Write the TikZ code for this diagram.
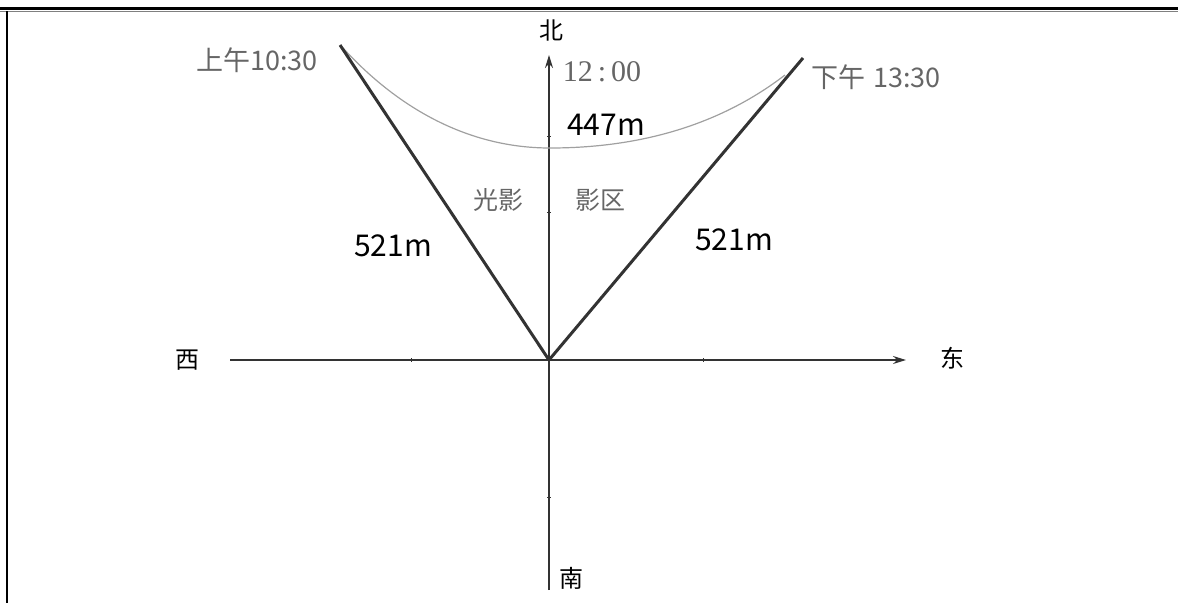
\documentclass[tikz,border=0pt]{standalone}
\usepackage{fontspec}
\setmainfont{Noto Sans CJK SC}
\newfontfamily\serifnum{Liberation Serif}
\usetikzlibrary{arrows.meta}
\definecolor{axisc}{HTML}{333333}
\definecolor{txtgray}{HTML}{666666}
\definecolor{curvec}{HTML}{A0A0A0}
\tikzset{
  axis/.style={draw=axisc, line width=1.6pt},
  ray/.style={draw=axisc, line width=3pt},
  arc/.style={draw=curvec, line width=1.2pt},
  tick/.style={draw=axisc, line width=0.8pt},
  lab/.style={inner sep=0pt, font=\fontsize{24}{26}\selectfont, text=black},
  glab/.style={inner sep=0pt, font=\fontsize{27}{29}\selectfont, text=txtgray},
  dist/.style={inner sep=0pt, font=\fontsize{30}{32}\selectfont, text=black},
}
\begin{document}
\begin{tikzpicture}[x=1pt,y=-1pt]
\useasboundingbox (0,0) rectangle (1178,603);
% frame
\draw[black, line width=3pt] (0,8.5) -- (1178,8.5);
\draw[gray, line width=0.8pt] (0,11.2) -- (1178,11.2);
\draw[black, line width=2pt] (7,11) -- (7,603);
% coordinates
\coordinate (O) at (549,360);
\coordinate (W) at (230,360);
\coordinate (E) at (906,360);
\coordinate (S) at (549,590);
\coordinate (N) at (549,55);
\coordinate (L) at (340,45);
\coordinate (R) at (803,58);
\coordinate (CL) at (343,48);
\coordinate (CB) at (550,148);
\coordinate (CR) at (785,75);
% axes
\draw[axis, -{Stealth[length=13pt,width=8pt]}] (W) -- (E);
\draw[axis, -{Stealth[length=13pt,width=8pt]}] (S) -- (N);
% ticks
\draw[tick] (411,358) -- (411,362);
\draw[tick] (703,358) -- (703,362);
\draw[tick] (547,497) -- (551,497);
\draw[tick] (547,212) -- (551,212);
\draw[tick] (547,136) -- (551,136);
% curve
\draw[arc] (CL) .. controls (395,105) and (465,148) .. (CB)
  .. controls (640,148) and (720,125) .. (CR);
% rays
\draw[ray] (O) -- (L);
\draw[ray] (O) -- (R);
% labels
\node[lab] (north) at (551,30) {北};
\node[lab] (south) at (571,578) {南};
\node[lab] (west) at (187,360) {西};
\node[lab] (east) at (952,358) {东};
\node[glab] (am) at (257,60) {上午10:30};
\node[glab] (pm) at (876,77) {下午\hspace{0.3em}13:30};
\node[inner sep=0pt, text=txtgray, font=\serifnum\fontsize{30}{32}\selectfont] (noon) at (602,72) {12\,:\,00};
\node[dist] (d447) at (606,125) {447m};
\node[glab, font=\fontsize{25}{27}\selectfont] (gy) at (498,200) {光影};
\node[glab, font=\fontsize{25}{27}\selectfont] (yq) at (600,200) {影区};
\node[dist] (d521a) at (393,246) {521m};
\node[dist] (d521b) at (734,240) {521m};
\end{tikzpicture}
\end{document}
